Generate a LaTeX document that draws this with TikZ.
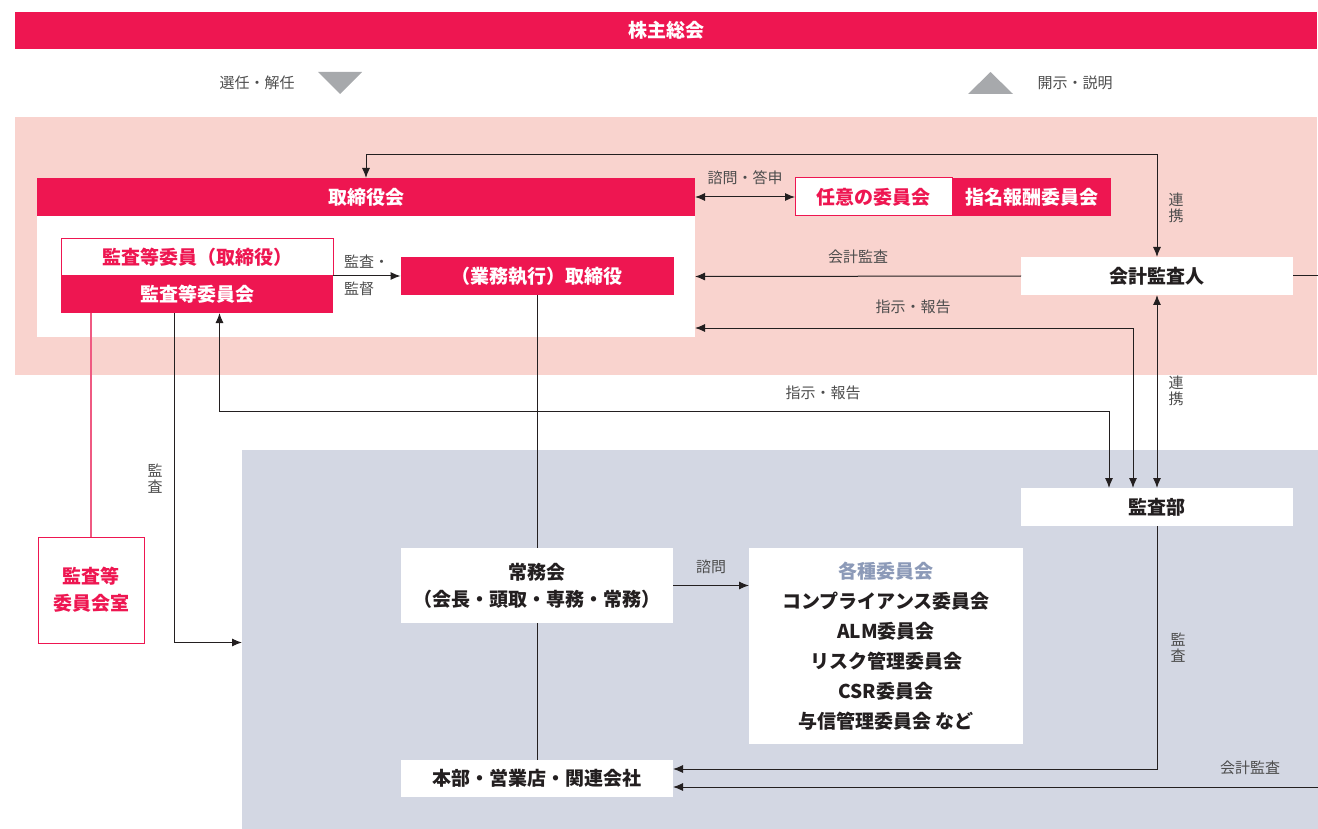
\documentclass[tikz,border=0pt]{standalone}
\usepackage{fontspec}
\setmainfont{Noto Sans CJK JP}
\usetikzlibrary{arrows.meta}
\pgfdeclarelayer{bg}
\pgfsetlayers{bg,main}
\definecolor{crimson}{HTML}{EE1651}
\definecolor{pinkbg}{HTML}{F9D3CE}
\definecolor{greybg}{HTML}{D3D7E3}
\definecolor{tri}{HTML}{A7A9AC}
\definecolor{lblgrey}{HTML}{4D4D4D}
\definecolor{linkpink}{HTML}{EF5A82}
\definecolor{slate}{HTML}{8C9AB8}
\definecolor{ink}{HTML}{231F20}
\newcommand\boxfont{\bfseries\fontsize{19}{27}\selectfont}
\newcommand\lblfont{\fontsize{15}{16}\selectfont}
\tikzset{
        >={Latex[length=10pt,width=8pt]},
        area/.style={fill=#1, inner sep=0pt, outer sep=0pt},
        redbox/.style={fill=crimson, text=white, font=\boxfont, inner sep=0pt, outer sep=0pt},
        whitebox/.style={fill=white, text=ink, font=\boxfont, inner sep=0pt, outer sep=0pt},
        framebox/.style={draw=crimson, line width=1pt, fill=white, text=crimson, font=\boxfont, inner sep=0pt, outer sep=0pt},
        lbl/.style={text=lblgrey, font=\lblfont, inner sep=0pt},
        conn/.style={draw=ink, line width=1pt},
}

\begin{document}
\begin{tikzpicture}[x=1pt,y=-1pt]
        \useasboundingbox (0,0) rectangle (1318,829);
        \begin{pgfonlayer}{bg}
                \node (boardarea) [area=pinkbg, minimum width=1302pt, minimum height=258pt] at (666,246) {};
                \node (execarea) [area=greybg, minimum width=1076pt, minimum height=379pt] at (780,639.5) {};
        \end{pgfonlayer}
        \node (agm) [redbox, minimum width=1302pt, minimum height=37pt] at (666,30.5) {株主総会};
        \node (elect) [lbl] at (257,83) {選任・解任};
        \node (disclose) [lbl] at (1075,83) {開示・説明};
        \fill[tri] (318,72) -- (362,72) -- (340,94) -- cycle;
        \fill[tri] (968,94) -- (1013,94) -- (990.5,72) -- cycle;

        \node (board) [redbox, minimum width=658pt, minimum height=38pt] at (366,197) {取締役会};
        \node (boardbody) [whitebox, minimum width=658pt, minimum height=121pt] at (366,276.5) {};
        \node (acm) [framebox, minimum width=272pt, minimum height=37pt] at (197,257.5) {監査等委員（取締役）};
        \node (acmc) [redbox, minimum width=272pt, minimum height=37pt] at (197,294.5) {監査等委員会};
        \node (exec) [redbox, minimum width=273pt, minimum height=38pt] at (537,276) {（業務執行）取締役};
        \node (optional) [framebox, minimum width=157pt, minimum height=38pt] at (873.5,197) {任意の委員会};
        \node (nomrem) [redbox, minimum width=159pt, minimum height=38pt] at (1031.5,197) {指名報酬委員会};
        \node (auditor) [whitebox, minimum width=272pt, minimum height=38pt] at (1157,276) {会計監査人};
        \node (iad) [whitebox, minimum width=272pt, minimum height=38pt] at (1157,507) {監査部};
        \node (jomu) [whitebox, minimum width=272pt, minimum height=75pt, align=center] at (537,585.5) {常務会\\（会長・頭取・専務・常務）};
        \node (committees) [whitebox, minimum width=274pt, minimum height=196pt, align=center, font=\bfseries\fontsize{19}{30}\selectfont] at (886,646) {\textcolor{slate}{各種委員会}\\コンプライアンス委員会\\ALM委員会\\リスク管理委員会\\CSR委員会\\与信管理委員会 など};
        \node (honbu) [whitebox, minimum width=272pt, minimum height=37pt] at (537,778.5) {本部・営業店・関連会社};
        \node (acmoffice) [framebox, minimum width=106pt, minimum height=106pt, align=center] at (91,590) {監査等\\委員会室};
        \coordinate (rim1) at (1318,276);
        \coordinate (rim2) at (1318,787);

        \node (l-consult) [lbl] at (745,178) {諮問・答申};
        \node (l-audit1) [lbl, anchor=west] at (344,262) {監査・};
        \node (l-audit2) [lbl, anchor=west] at (344,289) {監督};
        \node (l-acc1) [lbl] at (858,257) {会計監査};
        \node (l-instr1) [lbl] at (913,307) {指示・報告};
        \node (l-instr2) [lbl] at (823,393) {指示・報告};
        \node (l-link1) [lbl, align=center] at (1176,208) {連\\携};
        \node (l-link2) [lbl, align=center] at (1176,391) {連\\携};
        \node (l-audit3) [lbl, align=center] at (155,479) {監\\査};
        \node (l-audit4) [lbl, align=center] at (1178,648) {監\\査};
        \node (l-consult2) [lbl] at (711,567) {諮問};
        \node (l-acc2) [lbl] at (1250,768) {会計監査};

        \draw[conn,<->] (board.north) -- ++(0,-23) -| (auditor.north);
        \draw[conn,<->] (board.east) -- (optional.west);
        \draw[conn,->] (acmc.north east) -- (exec.west);
        \draw[conn,->] (auditor.west) -- (boardbody.east);
        \draw[conn] (auditor.east) -- (rim1);
        \draw[conn,<->] ([yshift=-51.5pt]boardbody.east) -| ([xshift=-24pt]iad.north);
        \draw[conn,<->] (auditor.south) -- (iad.north);
        \draw[conn,<->] ([xshift=22.5pt]acmc.south) -- ++(0,98) -| ([xshift=-48pt]iad.north);
        \draw[conn,->] ([xshift=-23pt]acmc.south) |- ([yshift=-3pt]execarea.west);
        \draw[conn,draw=linkpink,line width=1.3pt] ([xshift=-106pt]acmc.south) -- (acmoffice.north);
        \draw[conn] (exec.south) -- (jomu.north);
        \draw[conn] (jomu.south) -- (honbu.north);
        \draw[conn,->] (jomu.east) -- (jomu.east -| committees.west);
        \draw[conn,->] (iad.south) |- ([yshift=9.5pt]honbu.east);
        \draw[conn,->] (rim2) -- ([yshift=-8.5pt]honbu.east);
\end{tikzpicture}
\end{document}
